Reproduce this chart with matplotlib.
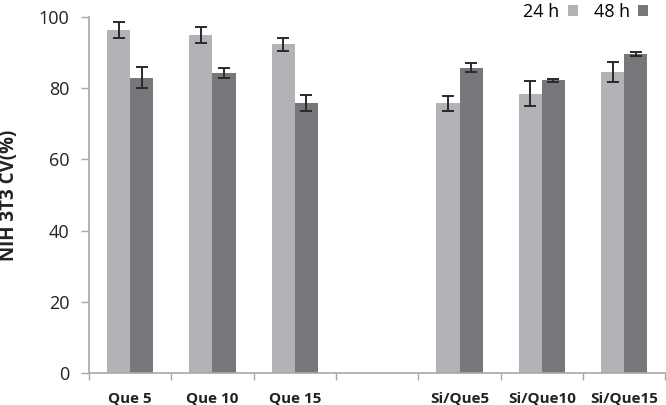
import matplotlib
matplotlib.use("Agg")
import matplotlib.pyplot as plt
import numpy as np
from matplotlib.ticker import FixedLocator

categories = ["Que 5", "Que 10", "Que 15", "", "Si/Que5", "Si/Que10", "Si/Que15"]
vals_24h = [96.3, 95.0, 92.3, np.nan, 75.8, 78.5, 84.5]
err_24h = [2.2, 2.2, 1.8, np.nan, 2.1, 3.4, 2.8]
vals_48h = [83.0, 84.4, 75.8, np.nan, 85.8, 82.2, 89.6]
err_48h = [3.0, 1.4, 2.3, np.nan, 1.2, 0.4, 0.5]
series_names = ["24 h", "48 h"]

c24 = "#b2b3b7"
c48 = "#76777b"
axis_gray = "#a8a8a8"

plt.rcParams['font.family'] = ['Open Sans', 'DejaVu Sans']

fig = plt.figure(figsize=(6.66, 4.05), dpi=100)
ax = fig.add_axes([0.1336, 0.079, 0.8655, 0.879])

x = np.arange(len(categories))
w = 0.28
ax.bar(x - w/2, vals_24h, w, color=c24, label=series_names[0], zorder=2)
ax.bar(x + w/2, vals_48h, w, color=c48, label=series_names[1], zorder=2)
ekw = dict(fmt="none", ecolor="#2a2a2a", elinewidth=1.4, capsize=4.5, capthick=1.4, zorder=3)
ax.errorbar(x - w/2, vals_24h, yerr=err_24h, **ekw)
ax.errorbar(x + w/2, vals_48h, yerr=err_48h, **ekw)

ax.set_xlim(-0.5, len(categories) - 0.5)
ax.set_ylim(0, 100)
ax.set_yticks([0, 20, 40, 60, 80, 100])
ax.tick_params(axis='y', labelsize=13, color=axis_gray, length=6, width=1, pad=8, labelcolor="#222222")

ax.set_xticks(x)
ax.set_xticklabels(categories, fontsize=11, fontweight='bold')
ax.tick_params(axis='x', which='major', length=0, pad=13, labelcolor="#222222")
ax.xaxis.set_minor_locator(FixedLocator(np.arange(-0.5, len(categories) + 0.5, 1.0)))
ax.tick_params(axis='x', which='minor', length=5, color=axis_gray, width=1)

for s in ["top", "right"]:
    ax.spines[s].set_visible(False)
for s in ["left", "bottom"]:
    ax.spines[s].set_color(axis_gray)
    ax.spines[s].set_linewidth(1.2)

ax.set_ylabel("NIH 3T3 CV(%)", fontsize=13.5, fontweight='bold', color="#222222")
ax.yaxis.set_label_coords(-0.122, 0.5)

leg = fig.legend(loc="center right", bbox_to_anchor=(648/666, 1 - 12/405), ncol=2, frameon=False,
                 markerfirst=False, fontsize=13, handlelength=0.55, handleheight=0.55,
                 handletextpad=0.45, columnspacing=0.9, borderaxespad=0, borderpad=0)

fig.savefig("out.png", dpi=100)
